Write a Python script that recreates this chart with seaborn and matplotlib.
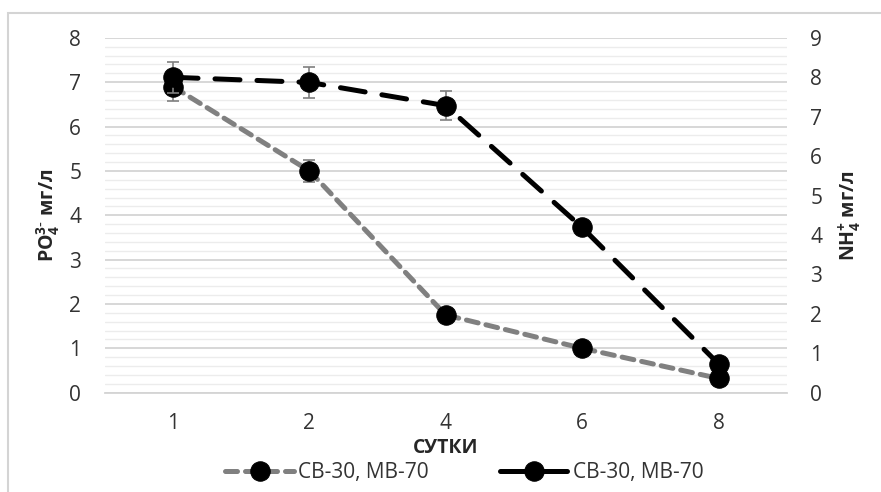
import numpy as np
import matplotlib
matplotlib.use("Agg")
import matplotlib.pyplot as plt
from matplotlib.patches import Rectangle
from matplotlib.ticker import MultipleLocator, FixedLocator
import seaborn as sns

# data
days = ["1", "2", "4", "6", "8"]
po4 = [6.9, 5.0, 1.75, 1.0, 0.32]          # left axis, gray series
po4_err = [0.33, 0.25, 0.0, 0.0, 0.0]
nh4 = [8.0, 7.87, 7.28, 4.19, 0.73]        # right axis, black series
nh4_err = [0.4, 0.4, 0.37, 0.0, 0.0]
series_label = "СВ-30, МВ-70"

sns.set_style("white")
plt.rcParams["font.family"] = ["Open Sans", "DejaVu Sans"]
plt.rcParams["mathtext.default"] = "regular"

fig = plt.figure(figsize=(8.81, 4.92), dpi=100)
ax = fig.add_axes([0.119, 0.202, 0.774, 0.721])
ax2 = ax.twinx()

x = np.arange(len(days))


def add_errbars(a, vals, errs):
    # only the points that actually show an error bar
    idx = [i for i, e in enumerate(errs) if e > 0]
    a.errorbar(x[idx], np.array(vals)[idx], yerr=np.array(errs)[idx], fmt="none",
               ecolor="#7f7f7f", elinewidth=1.2, capsize=4.5, capthick=1.2, zorder=2)


# gray series (left axis)
add_errbars(ax, po4, po4_err)
sns.lineplot(x=x, y=po4, ax=ax, color="#808080", lw=3.6, marker="o", ms=14,
             markerfacecolor="black", markeredgecolor="black", label=series_label,
             legend=False, zorder=3)
l1 = ax.lines[-1]
l1.set_linestyle((0, (2.4, 1.6)))
l1.set_dash_capstyle("round")

# black series (right axis)
add_errbars(ax2, nh4, nh4_err)
sns.lineplot(x=x, y=nh4, ax=ax2, color="black", lw=3.6, marker="o", ms=14,
             markerfacecolor="black", markeredgecolor="black", label=series_label,
             legend=False, zorder=3)
l2 = ax2.lines[-1]
l2.set_linestyle((0, (5.0, 3.4)))
l2.set_dash_capstyle("round")

ax.set_xlim(-0.5, len(days) - 0.5)
ax.set_ylim(0, 8)
ax2.set_ylim(0, 9)
ax.set_xticks(x, labels=days)
ax.xaxis.set_minor_locator(FixedLocator(np.arange(-0.5, len(days), 1.0)))
ax.yaxis.set_major_locator(MultipleLocator(1))
ax.yaxis.set_minor_locator(MultipleLocator(0.2))
ax2.yaxis.set_major_locator(MultipleLocator(1))

ax.grid(which="major", axis="y", color="#d4d4d4", lw=1.3)
ax.grid(which="minor", axis="y", color="#ececec", lw=1.0)
ax.grid(False, axis="x")
ax.set_axisbelow(True)

for a in (ax, ax2):
    for s in a.spines.values():
        s.set_visible(False)
ax.spines["bottom"].set_visible(True)
ax.spines["bottom"].set_color("#d4d4d4")
ax.spines["bottom"].set_linewidth(1.3)

tick_col = "#333333"
ax.tick_params(axis="x", which="major", length=0, pad=15, labelsize=15, labelcolor=tick_col)
ax.tick_params(axis="x", which="minor", length=6, width=1.3, color="#d4d4d4", direction="out")
ax.tick_params(axis="y", which="both", length=0, pad=17, labelsize=15, labelcolor=tick_col)
ax2.tick_params(axis="y", which="both", length=0, pad=17, labelsize=15, labelcolor=tick_col)

ax.set_xlabel("СУТКИ", fontsize=14, fontweight="bold", va="center")
ax.xaxis.set_label_coords(0.5, -0.156)
ax.set_ylabel(r"PO$_4^{3\text{-}}$ мг/л", fontsize=14, fontweight="bold", va="center")
ax.yaxis.set_label_coords(-0.083, 0.5)
ax2.set_ylabel(r"NH$_4^{+}$ мг/л", fontsize=14, fontweight="bold", va="center")
ax2.yaxis.set_label_coords(1.092, 0.5)

handles = [l1, l2]
fig.legend(handles, [series_label, series_label], loc="center", bbox_to_anchor=(0.527, 0.04),
           ncol=2, frameon=False, fontsize=15, handlelength=3.3, columnspacing=3.4,
           handletextpad=0.2, labelcolor=tick_col)

# outer light frame
fig.add_artist(Rectangle((8 / 881, -0.1), 1.2, 1 - 13 / 492 + 0.1, transform=fig.transFigure,
                         fill=False, edgecolor="#d4d4d4", lw=1.5))

fig.savefig("out.png", dpi=100)
